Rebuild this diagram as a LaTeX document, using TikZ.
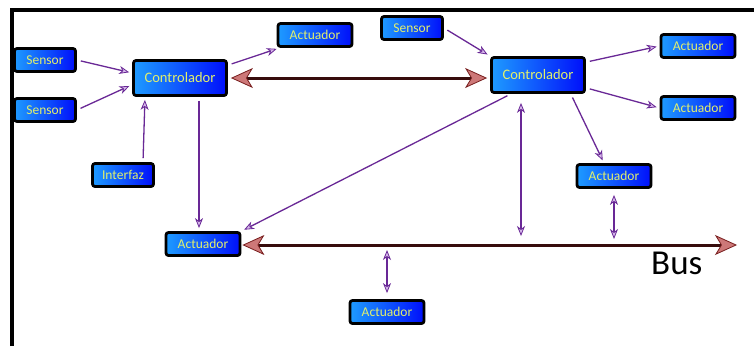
\documentclass[tikz,border=0pt]{standalone}
\usepackage{fontspec}
\setmainfont{Carlito}
\usetikzlibrary{arrows.meta,calc}
\definecolor{boxlight}{RGB}{30,155,255}
\definecolor{boxdark}{RGB}{0,15,250}
\definecolor{boxtext}{RGB}{225,240,110}
\definecolor{linkpurple}{RGB}{105,40,150}
\definecolor{tippale}{RGB}{215,185,235}
\definecolor{buscolor}{RGB}{55,12,12}
\definecolor{bustipfill}{RGB}{205,120,120}
\definecolor{bustipdraw}{RGB}{120,30,30}
\tikzset{
  unitbox/.style={draw=black, line width=2.8pt, rounded corners=2.5pt,
    left color=boxlight, right color=boxdark, text=boxtext,
    inner sep=0pt, font=\fontsize{13.5}{15}\selectfont},
  smallbox/.style={unitbox, minimum width=61pt, minimum height=23pt},
  actbox/.style={unitbox, minimum width=74pt, minimum height=23pt},
  ctrlbox/.style={unitbox, minimum width=93pt, minimum height=35pt,
    font=\fontsize{14.5}{17}\selectfont},
  ptip/.tip={Stealth[length=10pt, width=8pt, inset=3pt, color=linkpurple, fill=tippale, line width=0.8pt]},
  link/.style={draw=linkpurple, line width=1.3pt, -ptip, shorten <=4pt, shorten >=3pt},
  duallink/.style={draw=linkpurple, line width=1.3pt, ptip-ptip},
  btip/.tip={Stealth[length=22pt, width=20pt, inset=6pt, color=bustipdraw, fill=bustipfill, line width=0.8pt]},
  busarrow/.style={draw=buscolor, line width=3pt, btip-btip},
}
\begin{document}
\begin{tikzpicture}[x=1pt, y=-1pt]
  \useasboundingbox (0,0) rectangle (754,346);
  \fill[white] (0,0) rectangle (754,346);

  % outer frame (top and left edges)
  \draw[line width=4pt] (12,346) -- (12,10) -- (754,10);

  % units
  \node[smallbox] (s1) at (45,60) {Sensor};
  \node[smallbox] (s2) at (45,110) {Sensor};
  \node[smallbox] (ifz) at (123,175) {Interfaz};
  \node[ctrlbox] (c1) at (180,78) {Controlador};
  \node[actbox] (a1) at (315,35) {Actuador};
  \node[smallbox] (s3) at (412,28) {Sensor};
  \node[ctrlbox] (c2) at (538,75) {Controlador};
  \node[actbox] (ar1) at (698,46) {Actuador};
  \node[actbox] (ar2) at (698,108) {Actuador};
  \node[actbox] (ar3) at (614,176) {Actuador};
  \node[actbox] (al) at (203,244) {Actuador};
  \node[actbox] (ab) at (387,312) {Actuador};

  % bus
  \coordinate (busend) at (737,245);
  \coordinate (bj1) at (521,245);
  \coordinate (bj2) at (614,245);
  \coordinate (bj3) at (387,245);
  \draw[busarrow, shorten <=1pt] (al.east |- busend) -- (busend);
  \node[anchor=base west, font=\fontsize{35}{40}\selectfont, inner sep=0pt] (buslabel) at (651,274) {Bus};

  % controller link
  \draw[busarrow, shorten <=3pt, shorten >=3pt] (c1.east) -- (c1.east -| c2.west);

  % links of the first controller
  \draw[link] (s1.east) -- (c1.174);
  \draw[link] (s2.east) -- (c1.188);
  \draw[link] ([xshift=20pt]ifz.north) -- ([xshift=-35pt]c1.south);
  \draw[link] (c1.15) -- (a1.200);
  \draw[link] ([xshift=19pt]c1.south) -- ([xshift=19pt]c1.south |- al.north);

  % links of the second controller
  \draw[link] (s3.east) -- (c2.north west);
  \draw[link] (c2.15) -- (ar1.west);
  \draw[link] (c2.-15) -- (ar2.west);
  \draw[link] (c2.-30) -- ([xshift=-10pt]ar3.north);
  \draw[link] (c2.215) -- (al.north east);

  % bus attachments
  \draw[duallink, shorten <=9pt, shorten >=9pt] (c2.south -| bj1) -- (bj1);
  \draw[duallink, shorten <=6pt, shorten >=6pt] (ar3.south) -- (bj2);
  \draw[duallink, shorten <=5pt, shorten >=6pt] (bj3) -- (ab.north);
\end{tikzpicture}
\end{document}
